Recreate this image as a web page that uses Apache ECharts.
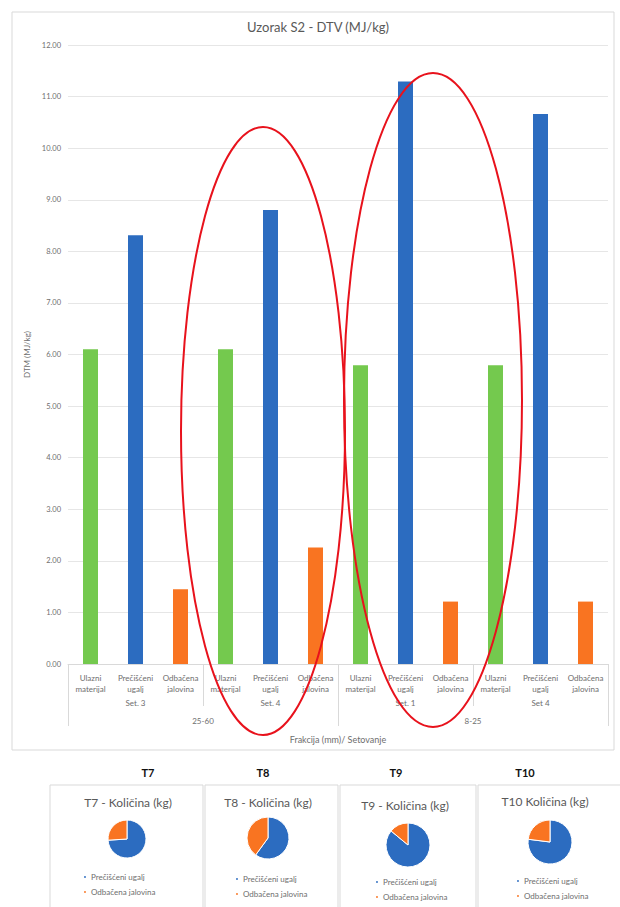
<!DOCTYPE html>
<html>
<head>
<meta charset="utf-8">
<script src="https://cdn.jsdelivr.net/npm/echarts@6/dist/echarts.min.js"></script>
<style>
  html, body { margin: 0; padding: 0; background: #ffffff; }
  #main { width: 620px; height: 907px; }
</style>
</head>
<body>
<div id="main"></div>
<script>
// --- bar chart data: DTV (MJ/kg) per set and material ---
const materials = ['Ulazni\nmaterijal', 'Prečišćeni\nugalj', 'Odbačena\njalovina'];
const sets = ['Set. 3', 'Set. 4', 'Set. 1', 'Set 4'];
const fractions = ['25-60', '8-25'];
const ulazniMaterijal = [6.10, 6.10, 5.79, 5.79];
const precisceniUgalj = [8.31, 8.80, 11.29, 10.66];
const odbacenaJalovina = [1.45, 2.26, 1.21, 1.21];

// --- pie data: share of quantity (kg) per test ---
const pieTests = ['T7', 'T8', 'T9', 'T10'];
const pieCaptions = ['T7 - Količina (kg)', 'T8 - Količina (kg)', 'T9 - Količina (kg)', 'T10 Količina (kg)'];
const pieNames = ['Prečišćeni ugalj', 'Odbačena jalovina'];
const pieUgalj = [74, 60, 86, 77];
const pieJalovina = [26, 40, 14, 23];

const GREEN = '#74c94e', BLUE = '#2c6cc0', ORANGE = '#f97421';
const GRAY_TEXT = '#6e6e6e', LINE = '#d9d9d9';
const FONT = 'Lato, "Open Sans", sans-serif';

// categories and bar data: one bar per material within each set
const categories = [];
const barData = [];
const matValues = [ulazniMaterijal, precisceniUgalj, odbacenaJalovina];
const matColors = [GREEN, BLUE, ORANGE];
sets.forEach((s, si) => {
  materials.forEach((m, mi) => {
    categories.push(m);
    barData.push({ value: matValues[mi][si], itemStyle: { color: matColors[mi] } });
  });
});

// layout of the four pie panels
const pieLayout = [
  { box: [50, 785, 153, 130], head: 148, cap: [128, 802], center: [127, 839], r: 19, legend: [82, 873] },
  { box: [205, 785, 133, 130], head: 263, cap: [268, 802], center: [268, 838], r: 21, legend: [234, 875] },
  { box: [340, 785, 136, 130], head: 396, cap: [405, 805], center: [408, 845], r: 22, legend: [374, 878] },
  { box: [478, 785, 145, 130], head: 525, cap: [545, 801], center: [550, 842], r: 22, legend: [515, 877] }
];

const graphics = [
  // outer frame of the bar chart
  { type: 'rect', z: -1, shape: { x: 12, y: 12, width: 602, height: 738 },
    style: { fill: '#ffffff', stroke: LINE, lineWidth: 1 } },
  { type: 'text', x: 318, y: 27, style: { text: 'Uzorak S2 - DTV (MJ/kg)', fill: '#595959',
    font: '13px ' + FONT, textAlign: 'center', textVerticalAlign: 'middle' } },
  // red highlight ellipses
  { type: 'ellipse', z: 100, shape: { cx: 263, cy: 431, rx: 82, ry: 304 },
    style: { fill: 'none', stroke: '#e8121c', lineWidth: 2 } },
  { type: 'ellipse', z: 100, shape: { cx: 433, cy: 400, rx: 89, ry: 327 },
    style: { fill: 'none', stroke: '#e8121c', lineWidth: 2 } }
];

const series = [{
  type: 'bar', data: barData, barWidth: 15, silent: true
}];
const legends = [];

pieLayout.forEach((p, i) => {
  graphics.push({ type: 'rect', z: -1, shape: { x: p.box[0], y: p.box[1], width: p.box[2], height: p.box[3] },
    style: { fill: '#ffffff', stroke: LINE, lineWidth: 1 } });
  graphics.push({ type: 'text', x: p.head, y: 772, style: { text: pieTests[i], fill: '#111',
    font: 'bold 11px ' + FONT, textAlign: 'center', textVerticalAlign: 'middle' } });
  graphics.push({ type: 'text', x: p.cap[0], y: p.cap[1], style: { text: pieCaptions[i], fill: '#595959',
    font: '12px ' + FONT, textAlign: 'center', textVerticalAlign: 'middle' } });
  series.push({
    type: 'pie', center: p.center, radius: p.r, startAngle: 90, clockwise: true, silent: true,
    label: { show: false }, labelLine: { show: false },
    itemStyle: { borderColor: '#ffffff', borderWidth: 1 },
    data: [
      { name: pieNames[0], value: pieUgalj[i], itemStyle: { color: BLUE } },
      { name: pieNames[1], value: pieJalovina[i], itemStyle: { color: ORANGE } }
    ]
  });
  legends.push({
    data: pieNames, orient: 'vertical', left: p.legend[0], top: p.legend[1],
    icon: 'circle', itemWidth: 4, itemHeight: 4, itemGap: 7, selectedMode: false, padding: 0,
    textStyle: { fontSize: 8, color: GRAY_TEXT, fontFamily: FONT, padding: [0, 0, 0, -1] }
  });
});

const chart = echarts.init(document.getElementById('main'), null, { renderer: 'svg' });
chart.setOption({
  animation: false,
  backgroundColor: '#ffffff',
  textStyle: { fontFamily: FONT },
  grid: { left: 68, right: 12, top: 45, height: 619, containLabel: false },
  legend: legends,
  xAxis: [
    { type: 'category', data: categories, position: 'bottom',
      axisLine: { lineStyle: { color: LINE } }, axisTick: { show: false },
      axisLabel: { interval: 0, fontSize: 8, color: GRAY_TEXT, lineHeight: 11, margin: 8 } },
    { type: 'category', data: sets, position: 'bottom', axisLine: { show: false },
      axisTick: { show: true, length: 42, interval: 0, lineStyle: { color: LINE } },
      axisLabel: { interval: 0, fontSize: 8, color: GRAY_TEXT, margin: 35 } },
    { type: 'category', data: fractions, position: 'bottom', axisLine: { show: false },
      axisTick: { show: true, length: 62, interval: 0, lineStyle: { color: LINE } },
      axisLabel: { interval: 0, fontSize: 8, color: GRAY_TEXT, margin: 53 },
      name: 'Frakcija (mm)/ Setovanje', nameLocation: 'middle', nameGap: 71,
      nameTextStyle: { fontSize: 9, color: GRAY_TEXT } }
  ],
  yAxis: {
    type: 'value', min: 0, max: 12, interval: 1,
    name: 'DTM (MJ/kg)', nameLocation: 'middle', nameGap: 33, nameRotate: 90,
    nameTextStyle: { fontSize: 8, color: GRAY_TEXT },
    axisLine: { show: false }, axisTick: { show: false },
    axisLabel: { fontSize: 7.5, color: GRAY_TEXT, margin: 7, formatter: v => v.toFixed(2) },
    splitLine: { lineStyle: { color: '#e6e6e6' } }
  },
  series: series,
  graphic: graphics
});
</script>
</body>
</html>
